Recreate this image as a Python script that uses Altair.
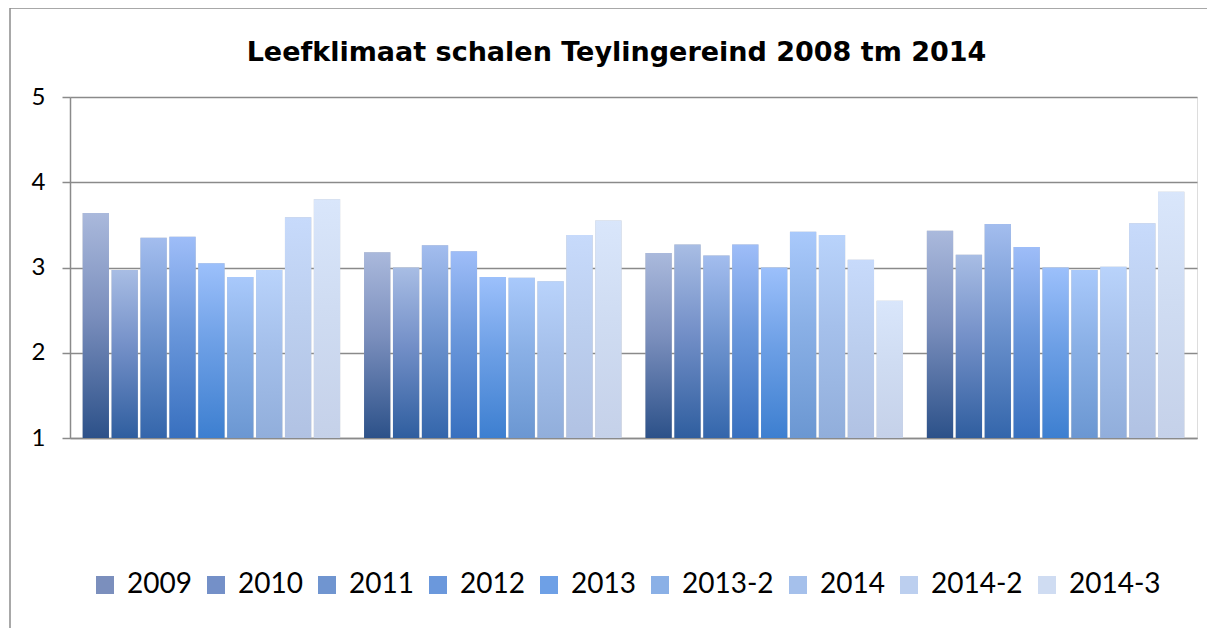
import altair as alt
import pandas as pd

groups = ["Schaal 1", "Schaal 2", "Schaal 3", "Schaal 4"]
series = ["2009", "2010", "2011", "2012", "2013", "2013-2", "2014", "2014-2", "2014-3"]
values = {
    "2009":   [3.64, 3.18, 3.17, 3.43],
    "2010":   [2.97, 3.00, 3.27, 3.15],
    "2011":   [3.35, 3.26, 3.14, 3.51],
    "2012":   [3.36, 3.19, 3.27, 3.24],
    "2013":   [3.05, 2.89, 3.00, 3.00],
    "2013-2": [2.89, 2.88, 3.42, 2.97],
    "2014":   [2.97, 2.84, 3.38, 3.01],
    "2014-2": [3.59, 3.38, 3.09, 3.52],
    "2014-3": [3.80, 3.55, 2.61, 3.89],
}
bottom_colors = ["#2c5189", "#2f5e9f", "#3466ab", "#3870bf", "#3d7fd0", "#6b97d2", "#91aedb", "#b1c2e3", "#c5d1e9"]
mid_colors = ["#7b8fbd", "#7490c8", "#7095d0", "#6b98dc", "#6ea0e6", "#8ab0e6", "#a5c0eb", "#bccfef", "#cfdcf2"]
top_colors = ["#aab9dc", "#a8bde4", "#a3bdee", "#9ebdf8", "#9cc0fb", "#a9c9fb", "#b9d3fb", "#c7dafb", "#d9e6fb"]

rows = []
for s in series:
    for g, v in zip(groups, values[s]):
        rows.append({"group": g, "series": s, "value": v})
df = pd.DataFrame(rows)

GRID = "#8a8a8a"
FONT = "Lato"

x_enc = alt.X("group:N", sort=groups,
              scale=alt.Scale(paddingInner=0.085, paddingOuter=0.045),
              axis=alt.Axis(labels=False, ticks=False, title=None, domainColor=GRID, domainWidth=1.5, grid=False))
xo_enc = alt.XOffset("series:N", sort=series, scale=alt.Scale(domain=series, paddingInner=0.09, paddingOuter=0.0))
y_enc = alt.Y("value:Q", scale=alt.Scale(domain=[1, 5], nice=False, zero=False),
              axis=alt.Axis(values=[1, 2, 3, 4, 5], format="d", title=None, tickSize=8, tickColor=GRID,
                            tickWidth=1.5, domainColor=GRID, domainWidth=1.5, gridColor=GRID, gridWidth=1.5,
                            labelFontSize=24, labelFont=FONT, labelColor="black", labelPadding=17))

border = alt.Chart(pd.DataFrame({"k": [0]})).mark_rect(filled=False, stroke="#8c8c8c", strokeWidth=1.5).encode(
    x=alt.value(-60), x2=alt.value(1200), y=alt.value(-89), y2=alt.value(600))

layers = [border]
for s, cb, cm, ct in zip(series, bottom_colors, mid_colors, top_colors):
    grad = alt.Gradient(gradient="linear", x1=0, x2=0, y1=1, y2=0,
                        stops=[alt.GradientStop(color=cb, offset=0),
                               alt.GradientStop(color=cm, offset=0.55),
                               alt.GradientStop(color=ct, offset=1)])
    base = alt.Chart(df).transform_filter(alt.datum.series == s)
    layers.append(
        base.mark_bar(color="#b4b4b4", opacity=0.8, xOffset=2).encode(
            x=x_enc, xOffset=xo_enc, y=y_enc, y2=alt.datum(1))
    )
    layers.append(
        base.mark_bar(color=grad).encode(
            x=x_enc, xOffset=xo_enc, y=y_enc, y2=alt.datum(1))
    )

legend_layer = alt.Chart(df).mark_square(opacity=0, size=1).encode(
    x=x_enc, xOffset=xo_enc, y=y_enc,
    color=alt.Color("series:N", sort=series,
                    scale=alt.Scale(domain=series, range=mid_colors),
                    legend=alt.Legend(title=None, orient="none", legendX=21, legendY=474, direction="horizontal",
                                      columns=9, symbolType="square", symbolSize=324, symbolOpacity=1,
                                      symbolStrokeWidth=0, labelFont=FONT, labelFontSize=28, labelColor="black",
                                      labelOffset=8, columnPadding=10, labelLimit=200)))
layers.append(legend_layer)

chart = alt.layer(*layers).properties(
    width=1127, height=341,
    autosize=alt.AutoSizeParams(type="none"),
    padding={"left": 62, "top": 89, "right": 10, "bottom": 190},
    title=alt.Title("Leefklimaat schalen Teylingereind 2008 tm 2014", font="DejaVu Sans", fontSize=27,
                    fontWeight="bold", color="black", anchor="middle", dx=-17, offset=-81, baseline="alphabetic"),
).configure_view(strokeWidth=0).configure(background="white")

chart.save("out.html", embed_options={"renderer": "svg", "actions": False})
